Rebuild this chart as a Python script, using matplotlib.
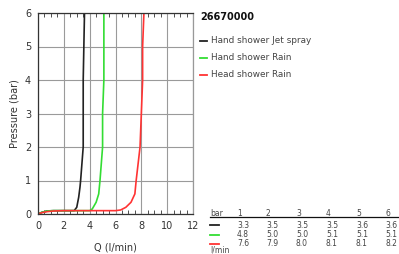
import matplotlib
matplotlib.use("Agg")
import matplotlib.pyplot as plt
from matplotlib.ticker import MultipleLocator

# ---- data ----
series_names = ["Hand shower Jet spray", "Hand shower Rain", "Head shower Rain"]
series_colors = ["#222222", "#33dd33", "#ff3333"]

jet_q = [0.0, 0.3, 0.7, 1.2, 2.0, 2.8, 3.0, 3.15, 3.25, 3.3, 3.4, 3.5, 3.5, 3.5, 3.55, 3.6]
jet_p = [0.0, 0.05, 0.09, 0.1, 0.1, 0.1, 0.2, 0.5, 0.8, 1.0, 1.5, 2.0, 3.0, 4.0, 5.0, 6.0]

rain_q = [0.0, 0.3, 0.7, 1.2, 2.0, 3.0, 4.0, 4.2, 4.5, 4.7, 4.8, 4.9, 5.0, 5.0, 5.1, 5.1, 5.1]
rain_p = [0.0, 0.05, 0.09, 0.1, 0.1, 0.1, 0.1, 0.15, 0.35, 0.6, 1.0, 1.5, 2.0, 3.0, 4.0, 5.0, 6.0]

head_q = [0.0, 0.3, 0.7, 1.2, 2.0, 4.0, 6.0, 6.4, 6.8, 7.2, 7.5, 7.6, 7.75, 7.9, 8.0, 8.1, 8.1, 8.2]
head_p = [0.0, 0.04, 0.07, 0.09, 0.1, 0.1, 0.1, 0.12, 0.2, 0.35, 0.6, 1.0, 1.5, 2.0, 3.0, 4.0, 5.0, 6.0]

table_bars = ["1", "2", "3", "4", "5", "6"]
table_rows = [
    ["3.3", "3.5", "3.5", "3.5", "3.6", "3.6"],
    ["4.8", "5.0", "5.0", "5.1", "5.1", "5.1"],
    ["7.6", "7.9", "8.0", "8.1", "8.1", "8.2"],
]
title_text = "26670000"

# ---- figure ----
W, H = 399, 254
fig = plt.figure(figsize=(W / 100, H / 100), dpi=100)
ax = fig.add_axes([38 / W, 1 - 214 / H, (193 - 38) / W, (214 - 13) / H])

for q, p, c in zip([jet_q, rain_q, head_q], [jet_p, rain_p, head_p], series_colors):
    ax.plot(q, p, color=c, lw=1.2, solid_capstyle="round")

ax.set_xlim(0, 12)
ax.set_ylim(0, 6)
ax.xaxis.set_major_locator(MultipleLocator(2))
ax.xaxis.set_minor_locator(MultipleLocator(0.5))
ax.yaxis.set_major_locator(MultipleLocator(1))
ax.grid(True, which="major", color="#9a9a9a", lw=0.8)
ax.set_axisbelow(True)
ax.tick_params(axis="both", which="both", direction="in", top=True, labelsize=7,
               colors="#333333", length=3)
ax.tick_params(axis="both", which="major", length=0)
ax.tick_params(axis="x", which="major", pad=5)
ax.tick_params(axis="y", which="major", pad=5)
ax.tick_params(axis="y", which="minor", left=False)
for s in ["left", "bottom", "top"]:
    ax.spines[s].set_color("#333333")
ax.spines["right"].set_color("#999999")
for s in ax.spines.values():
    s.set_linewidth(0.9)

ax.set_xlabel("Q (l/min)", fontsize=7, color="#333333", labelpad=8)
ax.set_ylabel("Pressure (bar)", fontsize=7, color="#333333", labelpad=4)

# title and legend
def px(x, y):
    return x / W, 1 - y / H

fig.text(*px(200, 17), title_text, fontsize=7, fontweight="bold", va="center", ha="left", color="#111111")
for i, (name, c) in enumerate(zip(series_names, series_colors)):
    y = 41 + 17 * i
    fig.add_artist(plt.Line2D([200 / W, 207 / W], [1 - y / H] * 2, color=c, lw=1.3))
    fig.text(*px(211, y), name, fontsize=6.4, va="center", ha="left", color="#444444")

# table
cols_x = [237, 266, 296, 326, 356, 385]
fig.text(*px(210, 213), "bar", fontsize=5.5, va="center", ha="left", color="#444444")
for x, b in zip(cols_x, table_bars):
    fig.text(*px(x, 213), b, fontsize=5.5, va="center", ha="left", color="#444444")
fig.add_artist(plt.Line2D([210 / W, 399 / W], [1 - 216.5 / H] * 2, color="#111111", lw=0.9))
for r, (row, c) in enumerate(zip(table_rows, series_colors)):
    y = 225 + 9.5 * r
    fig.add_artist(plt.Line2D([210 / W, 219 / W], [1 - y / H] * 2, color=c, lw=1.3))
    for x, v in zip(cols_x, row):
        fig.text(*px(x, y), v, fontsize=5.5, va="center", ha="left", color="#444444")
fig.text(*px(210, 250), "l/min", fontsize=5.5, va="center", ha="left", color="#444444")

fig.savefig("out.png", dpi=100)
